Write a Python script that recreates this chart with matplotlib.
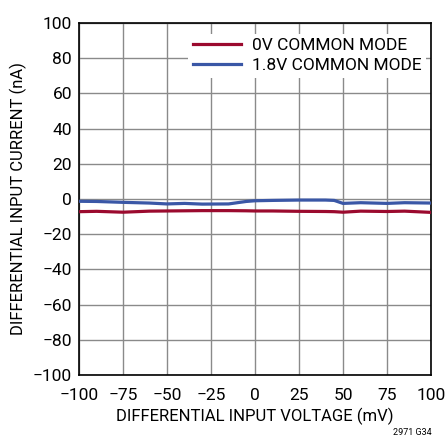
import matplotlib
matplotlib.use("Agg")
import matplotlib.pyplot as plt

plt.rcParams['font.family'] = ['Roboto', 'DejaVu Sans']

# data
volt = [-100, -90, -75, -60, -50, -40, -30, -15, -5, 0, 10, 25, 40, 45, 50, 60, 75, 85, 100]
i_0v = [-7.2, -7.0, -7.5, -6.9, -6.8, -6.7, -6.6, -6.6, -6.7, -6.8, -6.8, -7.0, -7.1, -7.2, -7.5, -6.9, -7.1, -6.9, -7.6]
i_18v = [-1.3, -1.4, -1.9, -2.3, -2.8, -2.5, -2.9, -2.8, -1.4, -1.0, -0.8, -0.6, -0.6, -0.8, -2.5, -2.1, -2.5, -2.1, -2.3]

xticks = [-100, -75, -50, -25, 0, 25, 50, 75, 100]
yticks = [-100, -80, -60, -40, -20, 0, 20, 40, 60, 80, 100]

fig = plt.figure(figsize=(4.47, 4.38), dpi=100)
ax = fig.add_axes([79/447, 1 - 375/438, 352/447, 352/438])

ax.plot(volt, i_0v, color='#9b0a2e', lw=2.3, label='0V COMMON MODE', zorder=3)
ax.plot(volt, i_18v, color='#3a57a6', lw=2.3, label='1.8V COMMON MODE', zorder=3)

ax.set_xlim(-100, 100)
ax.set_ylim(-100, 100)
ax.set_xticks(xticks)
ax.set_yticks(yticks)
ax.set_xticklabels([str(t).replace('-', '\u2212') for t in xticks])
ax.set_yticklabels([str(t).replace('-', '\u2212') for t in yticks])
ax.grid(True, color='#8a8a8a', lw=1)
ax.set_axisbelow(True)
ax.tick_params(length=0, labelsize=12.5)
ax.tick_params(axis='x', pad=9)
ax.tick_params(axis='y', pad=5)
for s in ax.spines.values():
    s.set_color('black')
    s.set_linewidth(1.2)

ax.set_xlabel('DIFFERENTIAL INPUT VOLTAGE (mV)', fontsize=12, labelpad=4)
ax.set_ylabel('DIFFERENTIAL INPUT CURRENT (nA)', fontsize=12, labelpad=4)

leg = ax.legend(loc='upper right', bbox_to_anchor=(0.985, 0.97), frameon=True,
                fontsize=12.5, handlelength=2.8, borderpad=0.25, labelspacing=0.3,
                handletextpad=0.6, borderaxespad=0)
leg.get_frame().set_edgecolor('none')
leg.get_frame().set_facecolor('white')
leg.get_frame().set_alpha(1)
leg.get_frame().set_boxstyle('square', pad=0)

fig.text(0.965, 0.002, '2971 G34', fontsize=6.5, ha='right', va='bottom')

fig.savefig('out.png', dpi=100)
